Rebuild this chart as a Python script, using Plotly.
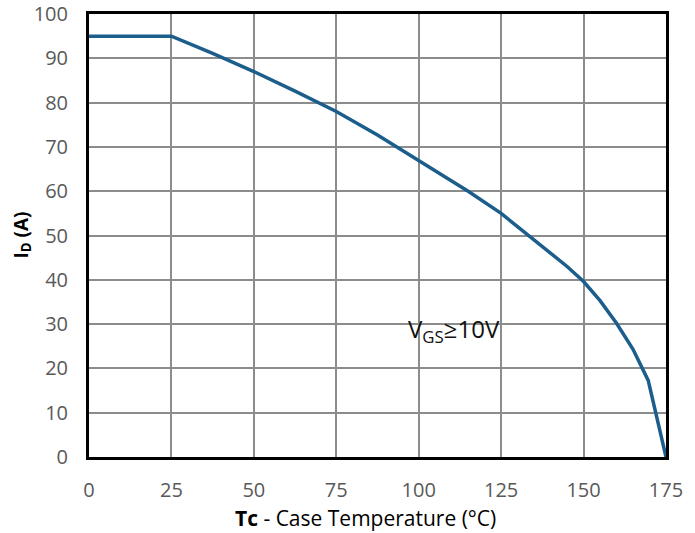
import plotly.graph_objects as go

# Data
tc = [0, 25, 37.5, 50, 62.5, 75, 87.5, 100, 107.5, 115, 125, 133, 140, 145, 150, 155, 160, 165, 169.6, 175]
id_a = [95, 95, 91.1, 87, 82.6, 78, 72.7, 67, 63.6, 60.0, 55, 50.2, 46.1, 43.0, 39.6, 35.3, 30.2, 24.3, 17.3, 0]

x_ticks = [0, 25, 50, 75, 100, 125, 150, 175]
y_ticks = [0, 10, 20, 30, 40, 50, 60, 70, 80, 90, 100]

FONT = "Open Sans"

fig = go.Figure()
fig.add_trace(go.Scatter(
    x=tc, y=id_a, mode="lines",
    line=dict(color="#1B5E8C", width=3.5),
    hoverinfo="skip", showlegend=False,
))

fig.add_annotation(
    x=96.0, y=28.6, xref="x", yref="y",
    text="V<sub>GS</sub>≥10V", showarrow=False,
    xanchor="left", yanchor="middle",
    font=dict(family=FONT, size=24, color="#111111"),
)

# axis titles
fig.add_annotation(
    x=0.5, y=0, xref="paper", yref="paper",
    text="<b>Tc</b> - Case Temperature (°C)", showarrow=False,
    xanchor="center", yanchor="middle", yshift=-61, xshift=-12,
    font=dict(family=FONT, size=21, color="#000000"),
)
fig.add_annotation(
    x=0, y=0.5, xref="paper", yref="paper",
    text="<b>I<sub>D</sub> (A)</b>", showarrow=False, textangle=-90,
    xanchor="center", yanchor="middle", xshift=-68,
    font=dict(family=FONT, size=19, color="#000000"),
)

axis_common = dict(
    showgrid=True, gridcolor="#8C8C8C", gridwidth=1.5,
    showline=True, linecolor="#000000", linewidth=3, mirror=True,
    zeroline=False, ticks="", automargin=False,
    tickfont=dict(family=FONT, size=20, color="#595959"),
)

fig.update_xaxes(
    range=[0, 175], tickvals=x_ticks, ticktext=[str(v) for v in x_ticks],
    ticklabelstandoff=13,
    **axis_common,
)
fig.update_yaxes(
    range=[0, 100], tickvals=y_ticks, ticktext=[str(v) for v in y_ticks],
    ticklabelstandoff=14,
    **axis_common,
)

fig.update_layout(
    width=695, height=533,
    margin=dict(l=89, r=29, t=14, b=76),
    paper_bgcolor="white", plot_bgcolor="white",
)

fig.write_html("out.html", config={"displayModeBar": False},
               post_script="document.body.style.margin='0px';")
